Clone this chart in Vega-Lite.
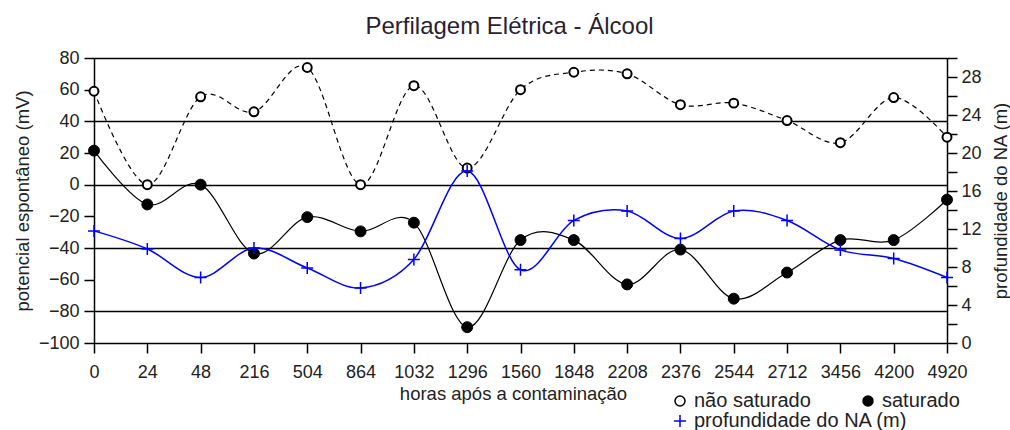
{
  "$schema": "https://vega.github.io/schema/vega-lite/v6.json",
  "width": 853,
  "height": 285,
  "autosize": "none",
  "padding": {"left": 94, "top": 58, "right": 63, "bottom": 87},
  "background": "white",
  "title": {
    "text": "Perfilagem Elétrica - Álcool",
    "fontSize": 24,
    "fontWeight": "normal",
    "font": "Liberation Sans",
    "color": "#2a1f33",
    "anchor": "middle",
    "frame": "group",
    "dx": -11,
    "offset": 10
  },
  "data": {
    "values": [
      {"h": "0", "ns": 59, "s": 21.5, "na": 11.8},
      {"h": "24", "ns": 0, "s": -12.5, "na": 9.9},
      {"h": "48", "ns": 55.5, "s": 0, "na": 6.9},
      {"h": "216", "ns": 46, "s": -43.5, "na": 10},
      {"h": "504", "ns": 74, "s": -20.5, "na": 7.9},
      {"h": "864", "ns": 0, "s": -29.5, "na": 5.8},
      {"h": "1032", "ns": 62.5, "s": -24, "na": 8.8},
      {"h": "1296", "ns": 10.5, "s": -90, "na": 18.1},
      {"h": "1560", "ns": 60, "s": -35, "na": 7.7},
      {"h": "1848", "ns": 71, "s": -35, "na": 12.9},
      {"h": "2208", "ns": 70, "s": -63, "na": 13.9},
      {"h": "2376", "ns": 50.5, "s": -41, "na": 11},
      {"h": "2544", "ns": 51.5, "s": -72, "na": 13.9},
      {"h": "2712", "ns": 40.5, "s": -55.5, "na": 12.9},
      {"h": "3456", "ns": 26.5, "s": -35, "na": 9.8},
      {"h": "4200", "ns": 55, "s": -35, "na": 8.9},
      {"h": "4920", "ns": 30, "s": -9.5, "na": 6.9}
    ]
  },
  "encoding": {
    "x": {
      "field": "h",
      "type": "ordinal",
      "sort": null,
      "scale": {"type": "point", "padding": 0},
      "axis": {
        "title": "horas após a contaminação",
        "labelAngle": 0,
        "titleX": 419,
        "titleY": 50,
        "titleBaseline": "middle",
        "titleAlign": "center",
        "tickSize": 10,
        "labelPadding": 10,
        "grid": false
      }
    }
  },
  "layer": [
    {
      "layer": [
        {
          "mark": {"type": "line", "interpolate": "cardinal", "color": "black", "strokeWidth": 1.2, "strokeDash": [5, 4]},
          "encoding": {
            "y": {"field": "ns", "type": "quantitative", "scale": {"domain": [-100, 80], "nice": false, "zero": false},
              "axis": {"title": "potencial espontâneo (mV)", "values": [-100, -80, -60, -40, -20, 0, 20, 40, 60, 80],
                "grid": true, "gridColor": "black", "gridWidth": 1.5,
                "gridOpacity": {"condition": {"test": "datum.value % 40 === 0", "value": 1}, "value": 0},
                "tickSize": 10, "labelPadding": 5, "titleX": -72, "titleY": 142.5, "titleAngle": 270, "titleAlign": "center", "titleBaseline": "middle"}}
          }
        },
        {
          "mark": {"type": "line", "interpolate": "cardinal", "color": "black", "strokeWidth": 1.2},
          "encoding": {
            "y": {"field": "s", "type": "quantitative", "scale": {"domain": [-100, 80], "nice": false, "zero": false},
              "axis": {"title": "potencial espontâneo (mV)", "values": [-100, -80, -60, -40, -20, 0, 20, 40, 60, 80],
                "grid": true, "gridColor": "black", "gridWidth": 1.5,
                "gridOpacity": {"condition": {"test": "datum.value % 40 === 0", "value": 1}, "value": 0},
                "tickSize": 10, "labelPadding": 5, "titleX": -72, "titleY": 142.5, "titleAngle": 270, "titleAlign": "center", "titleBaseline": "middle"}}
          }
        },
        {
          "mark": {"type": "point", "shape": "circle", "filled": true, "stroke": "black", "strokeWidth": 2, "size": 80, "opacity": 1},
          "encoding": {
            "y": {"field": "ns", "type": "quantitative", "scale": {"domain": [-100, 80], "nice": false, "zero": false},
              "axis": {"title": "potencial espontâneo (mV)", "values": [-100, -80, -60, -40, -20, 0, 20, 40, 60, 80],
                "grid": true, "gridColor": "black", "gridWidth": 1.5,
                "gridOpacity": {"condition": {"test": "datum.value % 40 === 0", "value": 1}, "value": 0},
                "tickSize": 10, "labelPadding": 5, "titleX": -72, "titleY": 142.5, "titleAngle": 270, "titleAlign": "center", "titleBaseline": "middle"}},
            "fill": {"datum": "não saturado",
              "scale": {"domain": ["não saturado", "saturado"], "range": ["white", "black"]},
              "legend": {
                "orient": "none", "legendX": 576, "legendY": 333, "direction": "horizontal", "columns": 2, "title": null,
                "padding": 0, "labelFontSize": 20, "labelColor": "#222222", "labelOffset": 4, "labelLimit": 400,
                "columnPadding": 47, "symbolType": "circle", "symbolSize": 100,
                "symbolStrokeColor": "black", "symbolStrokeWidth": 1.5
              }}
          }
        },
        {
          "mark": {"type": "point", "shape": "circle", "filled": true, "stroke": "black", "strokeWidth": 1, "size": 120, "opacity": 1},
          "encoding": {
            "y": {"field": "s", "type": "quantitative", "scale": {"domain": [-100, 80], "nice": false, "zero": false},
              "axis": {"title": "potencial espontâneo (mV)", "values": [-100, -80, -60, -40, -20, 0, 20, 40, 60, 80],
                "grid": true, "gridColor": "black", "gridWidth": 1.5,
                "gridOpacity": {"condition": {"test": "datum.value % 40 === 0", "value": 1}, "value": 0},
                "tickSize": 10, "labelPadding": 5, "titleX": -72, "titleY": 142.5, "titleAngle": 270, "titleAlign": "center", "titleBaseline": "middle"}},
            "fill": {"datum": "saturado",
              "scale": {"domain": ["não saturado", "saturado"], "range": ["white", "black"]},
              "legend": {
                "orient": "none", "legendX": 576, "legendY": 333, "direction": "horizontal", "columns": 2, "title": null,
                "padding": 0, "labelFontSize": 20, "labelColor": "#222222", "labelOffset": 4, "labelLimit": 400,
                "columnPadding": 47, "symbolType": "circle", "symbolSize": 100,
                "symbolStrokeColor": "black", "symbolStrokeWidth": 1.5
              }}
          }
        }
      ]
    },
    {
      "layer": [
        {
          "mark": {"type": "line", "interpolate": "cardinal", "color": "#0000ff", "strokeWidth": 1.5},
          "encoding": {
            "y": {"field": "na", "type": "quantitative", "scale": {"domain": [0, 30], "nice": false},
              "axis": {"orient": "right", "title": "profundidade do NA (m)",
                "values": [0, 2, 4, 6, 8, 10, 12, 14, 16, 18, 20, 22, 24, 26, 28, 30],
                "labelExpr": "datum.value % 4 === 0 && datum.value < 30 ? datum.label : ''",
                "grid": false, "tickSize": 10, "labelPadding": 4,
                "titleX": 53, "titleY": 142.5, "titleAngle": 270, "titleAlign": "center", "titleBaseline": "middle"}}
          }
        },
        {
          "mark": {"type": "point", "shape": "M-1,0H1M0,-1V1", "filled": false, "strokeWidth": 1.5, "size": 144, "opacity": 1},
          "encoding": {
            "y": {"field": "na", "type": "quantitative", "scale": {"domain": [0, 30], "nice": false},
              "axis": {"orient": "right", "title": "profundidade do NA (m)",
                "values": [0, 2, 4, 6, 8, 10, 12, 14, 16, 18, 20, 22, 24, 26, 28, 30],
                "labelExpr": "datum.value % 4 === 0 && datum.value < 30 ? datum.label : ''",
                "grid": false, "tickSize": 10, "labelPadding": 4,
                "titleX": 53, "titleY": 142.5, "titleAngle": 270, "titleAlign": "center", "titleBaseline": "middle"}},
            "color": {"datum": "profundidade do NA (m)",
              "scale": {"domain": ["profundidade do NA (m)"], "range": ["#0000ff"]},
              "legend": {
                "orient": "none", "legendX": 576, "legendY": 353, "direction": "horizontal", "title": null,
                "padding": 0, "labelFontSize": 20, "labelColor": "#222222", "labelOffset": 4, "labelLimit": 400,
                "symbolType": "M-1,0H1M0,-1V1", "symbolSize": 144, "symbolStrokeWidth": 1.5
              }}
          }
        }
      ]
    }
  ],
  "resolve": {"scale": {"y": "independent"}},
  "config": {
    "font": "Liberation Sans",
    "view": {"stroke": null},
    "axis": {
      "domainColor": "black",
      "domainWidth": 1.5,
      "tickColor": "black",
      "tickWidth": 1.5,
      "labelFontSize": 18,
      "labelColor": "#222222",
      "titleFontSize": 18.5,
      "titleFontWeight": "normal",
      "titleColor": "#222222"
    }
  }
}
